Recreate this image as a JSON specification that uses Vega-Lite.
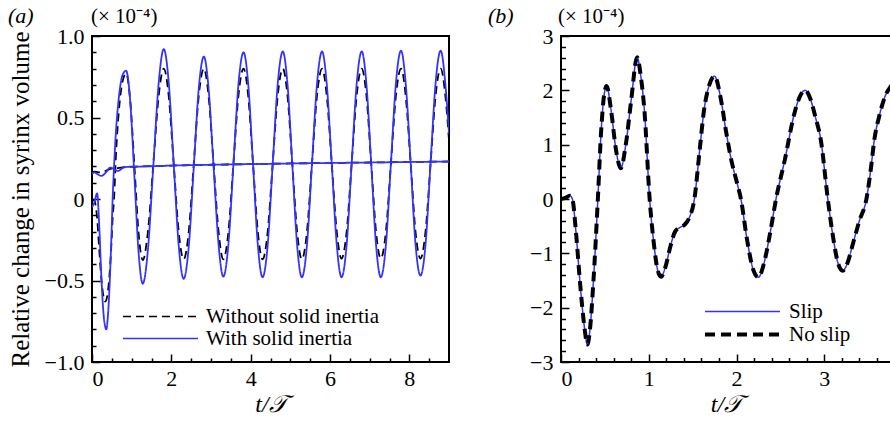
{
  "$schema": "https://vega.github.io/schema/vega-lite/v6.json",
  "padding": {"left": 7, "top": 4, "right": 0, "bottom": 0},
  "background": "white",
  "config": {
    "font": "Liberation Serif",
    "view": {"stroke": "black", "strokeWidth": 2},
    "axis": {"grid": false, "domain": false, "tickColor": "black", "tickWidth": 1.5, "labelColor": "black", "labelFont": "Liberation Serif", "labelFontSize": 22, "titleFont": "Liberation Serif", "titleFontSize": 22, "titleFontWeight": "normal", "titleColor": "black"},
    "legend": {"labelFont": "Liberation Serif", "labelFontSize": 21, "labelColor": "black", "labelLimit": 0}
  },
  "resolve": {"scale": {"color": "independent", "strokeDash": "independent", "strokeWidth": "independent"}, "legend": {"color": "independent", "strokeDash": "independent", "strokeWidth": "independent"}},
  "spacing": 37,
  "hconcat": [
    {
      "width": 357,
      "height": 326,
      "resolve": {"axis": {"x": "independent", "y": "independent"}},
      "layer": [
        {
          "data": {"values": [
            {"t": 0, "Without solid inertia": 0, "With solid inertia": -0.05},
            {"t": 0.06, "Without solid inertia": -0.01, "With solid inertia": -0.02},
            {"t": 0.13, "Without solid inertia": -0.12, "With solid inertia": 0.035},
            {"t": 0.18, "Without solid inertia": -0.3, "With solid inertia": -0.15},
            {"t": 0.24, "Without solid inertia": -0.5, "With solid inertia": -0.5},
            {"t": 0.30, "Without solid inertia": -0.61, "With solid inertia": -0.73},
            {"t": 0.33, "Without solid inertia": -0.63, "With solid inertia": -0.78},
            {"t": 0.36, "Without solid inertia": -0.62, "With solid inertia": -0.80},
            {"t": 0.40, "Without solid inertia": -0.57, "With solid inertia": -0.72},
            {"t": 0.44, "Without solid inertia": -0.47, "With solid inertia": -0.55},
            {"t": 0.48, "Without solid inertia": -0.32, "With solid inertia": -0.3},
            {"t": 0.52, "Without solid inertia": -0.12, "With solid inertia": 0.0},
            {"t": 0.56, "Without solid inertia": 0.02, "With solid inertia": 0.22},
            {"t": 0.60, "Without solid inertia": 0.25, "With solid inertia": 0.40},
            {"t": 0.64, "Without solid inertia": 0.42, "With solid inertia": 0.53},
            {"t": 0.70, "Without solid inertia": 0.60, "With solid inertia": 0.67},
            {"t": 0.77, "Without solid inertia": 0.72, "With solid inertia": 0.76},
            {"t": 0.86, "Without solid inertia": 0.77, "With solid inertia": 0.787},
            {"t": 0.965, "Without solid inertia": 0.60, "With solid inertia": 0.595},
            {"t": 1.07, "Without solid inertia": 0.20, "With solid inertia": 0.134},
            {"t": 1.175, "Without solid inertia": -0.21, "With solid inertia": -0.33},
            {"t": 1.28, "Without solid inertia": -0.375, "With solid inertia": -0.52},
            {"t": 1.41, "Without solid inertia": -0.20, "With solid inertia": -0.31},
            {"t": 1.545, "Without solid inertia": 0.21, "With solid inertia": 0.20},
            {"t": 1.68, "Without solid inertia": 0.63, "With solid inertia": 0.709},
            {"t": 1.81, "Without solid inertia": 0.80, "With solid inertia": 0.92},
            {"t": 1.935, "Without solid inertia": 0.629, "With solid inertia": 0.713},
            {"t": 2.06, "Without solid inertia": 0.215, "With solid inertia": 0.215},
            {"t": 2.185, "Without solid inertia": -0.199, "With solid inertia": -0.283},
            {"t": 2.31, "Without solid inertia": -0.37, "With solid inertia": -0.49},
            {"t": 2.44, "Without solid inertia": -0.199, "With solid inertia": -0.29},
            {"t": 2.565, "Without solid inertia": 0.215, "With solid inertia": 0.192},
            {"t": 2.69, "Without solid inertia": 0.629, "With solid inertia": 0.674},
            {"t": 2.82, "Without solid inertia": 0.80, "With solid inertia": 0.874},
            {"t": 2.94, "Without solid inertia": 0.629, "With solid inertia": 0.676},
            {"t": 3.065, "Without solid inertia": 0.215, "With solid inertia": 0.199},
            {"t": 3.19, "Without solid inertia": -0.199, "With solid inertia": -0.278},
            {"t": 3.31, "Without solid inertia": -0.37, "With solid inertia": -0.476},
            {"t": 3.44, "Without solid inertia": -0.199, "With solid inertia": -0.274},
            {"t": 3.565, "Without solid inertia": 0.215, "With solid inertia": 0.212},
            {"t": 3.69, "Without solid inertia": 0.629, "With solid inertia": 0.698},
            {"t": 3.82, "Without solid inertia": 0.80, "With solid inertia": 0.90},
            {"t": 3.94, "Without solid inertia": 0.629, "With solid inertia": 0.70},
            {"t": 4.06, "Without solid inertia": 0.215, "With solid inertia": 0.2125},
            {"t": 4.18, "Without solid inertia": -0.199, "With solid inertia": -0.28},
            {"t": 4.30, "Without solid inertia": -0.37, "With solid inertia": -0.48},
            {"t": 4.43, "Without solid inertia": -0.199, "With solid inertia": -0.28},
            {"t": 4.555, "Without solid inertia": 0.215, "With solid inertia": 0.2125},
            {"t": 4.68, "Without solid inertia": 0.629, "With solid inertia": 0.70},
            {"t": 4.81, "Without solid inertia": 0.80, "With solid inertia": 0.905},
            {"t": 4.93, "Without solid inertia": 0.629, "With solid inertia": 0.70},
            {"t": 5.05, "Without solid inertia": 0.215, "With solid inertia": 0.2125},
            {"t": 5.17, "Without solid inertia": -0.199, "With solid inertia": -0.28},
            {"t": 5.29, "Without solid inertia": -0.37, "With solid inertia": -0.48},
            {"t": 5.42, "Without solid inertia": -0.199, "With solid inertia": -0.28},
            {"t": 5.545, "Without solid inertia": 0.215, "With solid inertia": 0.2125},
            {"t": 5.67, "Without solid inertia": 0.629, "With solid inertia": 0.70},
            {"t": 5.80, "Without solid inertia": 0.80, "With solid inertia": 0.905},
            {"t": 5.92, "Without solid inertia": 0.629, "With solid inertia": 0.70},
            {"t": 6.045, "Without solid inertia": 0.215, "With solid inertia": 0.2125},
            {"t": 6.17, "Without solid inertia": -0.199, "With solid inertia": -0.28},
            {"t": 6.29, "Without solid inertia": -0.365, "With solid inertia": -0.48},
            {"t": 6.42, "Without solid inertia": -0.199, "With solid inertia": -0.28},
            {"t": 6.545, "Without solid inertia": 0.215, "With solid inertia": 0.2125},
            {"t": 6.67, "Without solid inertia": 0.629, "With solid inertia": 0.70},
            {"t": 6.80, "Without solid inertia": 0.80, "With solid inertia": 0.905},
            {"t": 6.92, "Without solid inertia": 0.629, "With solid inertia": 0.70},
            {"t": 7.04, "Without solid inertia": 0.215, "With solid inertia": 0.2125},
            {"t": 7.16, "Without solid inertia": -0.199, "With solid inertia": -0.28},
            {"t": 7.28, "Without solid inertia": -0.365, "With solid inertia": -0.48},
            {"t": 7.41, "Without solid inertia": -0.199, "With solid inertia": -0.28},
            {"t": 7.535, "Without solid inertia": 0.215, "With solid inertia": 0.215},
            {"t": 7.66, "Without solid inertia": 0.629, "With solid inertia": 0.705},
            {"t": 7.79, "Without solid inertia": 0.80, "With solid inertia": 0.91},
            {"t": 7.91, "Without solid inertia": 0.629, "With solid inertia": 0.705},
            {"t": 8.035, "Without solid inertia": 0.215, "With solid inertia": 0.215},
            {"t": 8.155, "Without solid inertia": -0.199, "With solid inertia": -0.275},
            {"t": 8.28, "Without solid inertia": -0.365, "With solid inertia": -0.47},
            {"t": 8.41, "Without solid inertia": -0.195, "With solid inertia": -0.275},
            {"t": 8.535, "Without solid inertia": 0.215, "With solid inertia": 0.22},
            {"t": 8.66, "Without solid inertia": 0.629, "With solid inertia": 0.705},
            {"t": 8.79, "Without solid inertia": 0.80, "With solid inertia": 0.91},
            {"t": 8.91, "Without solid inertia": 0.629, "With solid inertia": 0.70},
            {"t": 9.0, "Without solid inertia": 0.36, "With solid inertia": 0.40}
          ]},
          "transform": [{"fold": ["Without solid inertia", "With solid inertia"], "as": ["s", "v"]}],
          "mark": {"type": "line", "interpolate": "monotone", "clip": true, "strokeWidth": 1.8},
          "encoding": {
            "x": {"field": "t", "type": "quantitative", "scale": {"domain": [0, 9], "nice": false, "zero": false},
                  "axis": {"orient": "bottom", "values": [0, 2, 4, 6, 8], "offset": -8, "tickSize": 8, "labelPadding": 6, "title": "t/𝒯", "titleFontStyle": "italic", "titleFontSize": 24, "titlePadding": 3}},
            "y": {"field": "v", "type": "quantitative", "scale": {"domain": [-1, 1], "nice": false},
                  "axis": {"orient": "left", "values": [-1, -0.5, 0, 0.5, 1], "labelExpr": "datum.value == 0 ? '0' : format(datum.value, '.1f')", "offset": -8, "tickSize": 8, "labelPadding": 8, "title": "Relative change in syrinx volume    ", "titleFontSize": 25, "titlePadding": 11}},
            "color": {"field": "s", "type": "nominal", "scale": {"domain": ["Without solid inertia", "With solid inertia"], "range": ["black", "#3333ff"]},
                      "legend": {"orient": "none", "legendX": 30, "legendY": 270, "title": null, "symbolType": "stroke", "symbolSize": 5625, "clipHeight": 21, "labelOffset": 7, "rowPadding": 0}},
            "strokeDash": {"field": "s", "type": "nominal", "scale": {"domain": ["Without solid inertia", "With solid inertia"], "range": [[8, 5], [1, 0]]},
                      "legend": {"orient": "none", "legendX": 30, "legendY": 270, "title": null, "symbolType": "stroke", "symbolSize": 5625, "clipHeight": 21, "labelOffset": 7, "rowPadding": 0}}
          }
        },
        {
          "data": {"values": [
            {"t": 0.00, "Without solid inertia": 0.165, "With solid inertia": 0.155},
            {"t": 0.06, "Without solid inertia": 0.168, "With solid inertia": 0.163},
            {"t": 0.14, "Without solid inertia": 0.165, "With solid inertia": 0.152},
            {"t": 0.24, "Without solid inertia": 0.162, "With solid inertia": 0.142},
            {"t": 0.34, "Without solid inertia": 0.172, "With solid inertia": 0.16},
            {"t": 0.46, "Without solid inertia": 0.185, "With solid inertia": 0.193},
            {"t": 0.56, "Without solid inertia": 0.19, "With solid inertia": 0.183},
            {"t": 0.65, "Without solid inertia": 0.19, "With solid inertia": 0.172},
            {"t": 0.80, "Without solid inertia": 0.195, "With solid inertia": 0.193},
            {"t": 0.95, "Without solid inertia": 0.197, "With solid inertia": 0.198},
            {"t": 1.2, "Without solid inertia": 0.199, "With solid inertia": 0.199},
            {"t": 2.0, "Without solid inertia": 0.205, "With solid inertia": 0.205},
            {"t": 3.0, "Without solid inertia": 0.21, "With solid inertia": 0.21},
            {"t": 4.0, "Without solid inertia": 0.214, "With solid inertia": 0.214},
            {"t": 5.0, "Without solid inertia": 0.218, "With solid inertia": 0.218},
            {"t": 6.0, "Without solid inertia": 0.221, "With solid inertia": 0.221},
            {"t": 7.0, "Without solid inertia": 0.224, "With solid inertia": 0.224},
            {"t": 8.0, "Without solid inertia": 0.227, "With solid inertia": 0.227},
            {"t": 9.0, "Without solid inertia": 0.23, "With solid inertia": 0.23}
          ]},
          "transform": [{"fold": ["Without solid inertia", "With solid inertia"], "as": ["s", "v"]}],
          "mark": {"type": "line", "interpolate": "monotone", "clip": true, "strokeWidth": 1.8},
          "encoding": {
            "x": {"field": "t", "type": "quantitative", "axis": null},
            "y": {"field": "v", "type": "quantitative", "axis": null},
            "color": {"field": "s", "type": "nominal"},
            "strokeDash": {"field": "s", "type": "nominal"}
          }
        },
        {
          "data": {"values": [{"label": "(× 10⁻⁴)"}]},
          "mark": {"type": "text", "align": "left", "baseline": "alphabetic", "dy": -13, "dx": -1, "fontSize": 21, "font": "Liberation Serif", "color": "black"},
          "encoding": {
            "text": {"field": "label", "type": "nominal"},
            "x": {"datum": 0, "type": "quantitative",
                  "axis": {"orient": "bottom", "values": [0.5, 1, 1.5, 2.5, 3, 3.5, 4.5, 5, 5.5, 6.5, 7, 7.5, 8.5], "labels": false, "offset": -4, "tickSize": 4, "title": null}},
            "y": {"datum": 1, "type": "quantitative",
                  "axis": {"orient": "left", "values": [-0.9, -0.8, -0.7, -0.6, -0.4, -0.3, -0.2, -0.1, 0.1, 0.2, 0.3, 0.4, 0.6, 0.7, 0.8, 0.9], "labels": false, "offset": -4, "tickSize": 4, "title": null}}
          }
        },
        {
          "data": {"values": [{"label": "(a)"}]},
          "mark": {"type": "text", "align": "left", "baseline": "alphabetic", "dy": -13, "dx": -84, "fontSize": 22, "fontStyle": "italic", "font": "Liberation Serif", "color": "black"},
          "encoding": {
            "text": {"field": "label", "type": "nominal"},
            "x": {"datum": 0, "type": "quantitative", "axis": null},
            "y": {"datum": 1, "type": "quantitative", "axis": null}
          }
        }
      ]
    },
    {
      "width": 330,
      "height": 326,
      "resolve": {"axis": {"x": "independent", "y": "independent"}},
      "layer": [
        {
          "data": {"values": [
            {"t": 0.00, "Slip": 0.00, "No slip": 0.00},
            {"t": 0.05, "Slip": 0.02, "No slip": 0.02},
            {"t": 0.10, "Slip": 0.06, "No slip": 0.06},
            {"t": 0.13, "Slip": 0.0, "No slip": 0.0},
            {"t": 0.17, "Slip": -0.6, "No slip": -0.6},
            {"t": 0.22, "Slip": -1.6, "No slip": -1.6},
            {"t": 0.27, "Slip": -2.4, "No slip": -2.4},
            {"t": 0.30, "Slip": -2.68, "No slip": -2.68},
            {"t": 0.33, "Slip": -2.4, "No slip": -2.4},
            {"t": 0.37, "Slip": -1.5, "No slip": -1.5},
            {"t": 0.42, "Slip": 0.0, "No slip": 0.0},
            {"t": 0.456, "Slip": 1.21, "No slip": 1.21},
            {"t": 0.49, "Slip": 1.9, "No slip": 1.9},
            {"t": 0.52, "Slip": 2.08, "No slip": 2.08},
            {"t": 0.57, "Slip": 1.64, "No slip": 1.64},
            {"t": 0.627, "Slip": 0.9, "No slip": 0.9},
            {"t": 0.68, "Slip": 0.565, "No slip": 0.565},
            {"t": 0.74, "Slip": 1.02, "No slip": 1.02},
            {"t": 0.80, "Slip": 1.82, "No slip": 1.82},
            {"t": 0.867, "Slip": 2.61, "No slip": 2.61},
            {"t": 0.91, "Slip": 2.25, "No slip": 2.25},
            {"t": 0.95, "Slip": 1.64, "No slip": 1.64},
            {"t": 1.01, "Slip": 0.0, "No slip": 0.0},
            {"t": 1.06, "Slip": -0.85, "No slip": -0.85},
            {"t": 1.10, "Slip": -1.3, "No slip": -1.3},
            {"t": 1.14, "Slip": -1.43, "No slip": -1.43},
            {"t": 1.19, "Slip": -1.25, "No slip": -1.25},
            {"t": 1.25, "Slip": -0.85, "No slip": -0.85},
            {"t": 1.30, "Slip": -0.6, "No slip": -0.6},
            {"t": 1.36, "Slip": -0.52, "No slip": -0.52},
            {"t": 1.41, "Slip": -0.47, "No slip": -0.47},
            {"t": 1.46, "Slip": -0.35, "No slip": -0.35},
            {"t": 1.52, "Slip": 0.0, "No slip": 0.0},
            {"t": 1.58, "Slip": 0.9, "No slip": 0.9},
            {"t": 1.63, "Slip": 1.64, "No slip": 1.64},
            {"t": 1.69, "Slip": 2.1, "No slip": 2.1},
            {"t": 1.75, "Slip": 2.26, "No slip": 2.26},
            {"t": 1.82, "Slip": 1.85, "No slip": 1.85},
            {"t": 1.88, "Slip": 1.25, "No slip": 1.25},
            {"t": 1.94, "Slip": 0.72, "No slip": 0.72},
            {"t": 2.00, "Slip": 0.33, "No slip": 0.33},
            {"t": 2.05, "Slip": 0.0, "No slip": 0.0},
            {"t": 2.12, "Slip": -0.75, "No slip": -0.75},
            {"t": 2.19, "Slip": -1.3, "No slip": -1.3},
            {"t": 2.25, "Slip": -1.44, "No slip": -1.44},
            {"t": 2.31, "Slip": -1.2, "No slip": -1.2},
            {"t": 2.38, "Slip": -0.65, "No slip": -0.65},
            {"t": 2.45, "Slip": 0.0, "No slip": 0.0},
            {"t": 2.55, "Slip": 0.72, "No slip": 0.72},
            {"t": 2.66, "Slip": 1.58, "No slip": 1.58},
            {"t": 2.72, "Slip": 1.88, "No slip": 1.88},
            {"t": 2.78, "Slip": 2.0, "No slip": 2.0},
            {"t": 2.84, "Slip": 1.85, "No slip": 1.85},
            {"t": 2.90, "Slip": 1.5, "No slip": 1.5},
            {"t": 2.96, "Slip": 1.09, "No slip": 1.09},
            {"t": 3.04, "Slip": 0.0, "No slip": 0.0},
            {"t": 3.10, "Slip": -0.7, "No slip": -0.7},
            {"t": 3.16, "Slip": -1.2, "No slip": -1.2},
            {"t": 3.21, "Slip": -1.32, "No slip": -1.32},
            {"t": 3.27, "Slip": -1.15, "No slip": -1.15},
            {"t": 3.33, "Slip": -0.8, "No slip": -0.8},
            {"t": 3.40, "Slip": -0.4, "No slip": -0.4},
            {"t": 3.48, "Slip": 0.0, "No slip": 0.0},
            {"t": 3.53, "Slip": 0.55, "No slip": 0.55},
            {"t": 3.57, "Slip": 1.09, "No slip": 1.09},
            {"t": 3.63, "Slip": 1.55, "No slip": 1.55},
            {"t": 3.69, "Slip": 1.88, "No slip": 1.88},
            {"t": 3.76, "Slip": 2.08, "No slip": 2.08},
            {"t": 3.82, "Slip": 2.2, "No slip": 2.2}
          ]},
          "transform": [{"fold": ["Slip", "No slip"], "as": ["s", "v"]}],
          "mark": {"type": "line", "interpolate": "monotone", "clip": true},
          "encoding": {
            "x": {"field": "t", "type": "quantitative", "scale": {"domain": [0, 3.76], "nice": false, "zero": false},
                  "axis": {"orient": "bottom", "values": [0, 1, 2, 3], "offset": -8, "tickSize": 8, "labelPadding": 6, "title": "t/𝒯", "titleFontStyle": "italic", "titleFontSize": 24, "titlePadding": 3}},
            "y": {"field": "v", "type": "quantitative", "scale": {"domain": [-3, 3], "nice": false},
                  "axis": {"orient": "left", "values": [-3, -2, -1, 0, 1, 2, 3], "offset": -8, "tickSize": 8, "labelPadding": 8, "title": null}},
            "color": {"field": "s", "type": "nominal", "scale": {"domain": ["Slip", "No slip"], "range": ["#3333ff", "black"]},
                      "legend": {"orient": "none", "legendX": 142, "legendY": 265, "title": null, "symbolType": "stroke", "symbolSize": 5625, "clipHeight": 21, "labelOffset": 7, "rowPadding": 1}},
            "strokeDash": {"field": "s", "type": "nominal", "scale": {"domain": ["Slip", "No slip"], "range": [[1, 0], [10, 6]]},
                      "legend": {"orient": "none", "legendX": 142, "legendY": 265, "title": null, "symbolType": "stroke", "symbolSize": 5625, "clipHeight": 21, "labelOffset": 7, "rowPadding": 1}},
            "strokeWidth": {"field": "s", "type": "nominal", "scale": {"domain": ["Slip", "No slip"], "range": [1.5, 4]},
                      "legend": {"orient": "none", "legendX": 142, "legendY": 265, "title": null, "symbolType": "stroke", "symbolSize": 5625, "clipHeight": 21, "labelOffset": 7, "rowPadding": 1}}
          }
        },
        {
          "data": {"values": [{"label": "(× 10⁻⁴)"}]},
          "mark": {"type": "text", "align": "left", "baseline": "alphabetic", "dy": -13, "dx": -3, "fontSize": 21, "font": "Liberation Serif", "color": "black"},
          "encoding": {
            "text": {"field": "label", "type": "nominal"},
            "x": {"datum": 0, "type": "quantitative",
                  "axis": {"orient": "bottom", "values": [0.2, 0.4, 0.6, 0.8, 1.2, 1.4, 1.6, 1.8, 2.2, 2.4, 2.6, 2.8, 3.2, 3.4, 3.6], "labels": false, "offset": -4.5, "tickSize": 4.5, "title": null}},
            "y": {"datum": 3, "type": "quantitative",
                  "axis": {"orient": "left", "values": [-2.8, -2.6, -2.4, -2.2, -1.8, -1.6, -1.4, -1.2, -0.8, -0.6, -0.4, -0.2, 0.2, 0.4, 0.6, 0.8, 1.2, 1.4, 1.6, 1.8, 2.2, 2.4, 2.6, 2.8], "labels": false, "offset": -4.5, "tickSize": 4.5, "title": null}}
          }
        },
        {
          "data": {"values": [{"label": "(b)"}]},
          "mark": {"type": "text", "align": "left", "baseline": "alphabetic", "dy": -13, "dx": -73, "fontSize": 22, "fontStyle": "italic", "font": "Liberation Serif", "color": "black"},
          "encoding": {
            "text": {"field": "label", "type": "nominal"},
            "x": {"datum": 0, "type": "quantitative", "axis": null},
            "y": {"datum": 3, "type": "quantitative", "axis": null}
          }
        }
      ]
    }
  ]
}
